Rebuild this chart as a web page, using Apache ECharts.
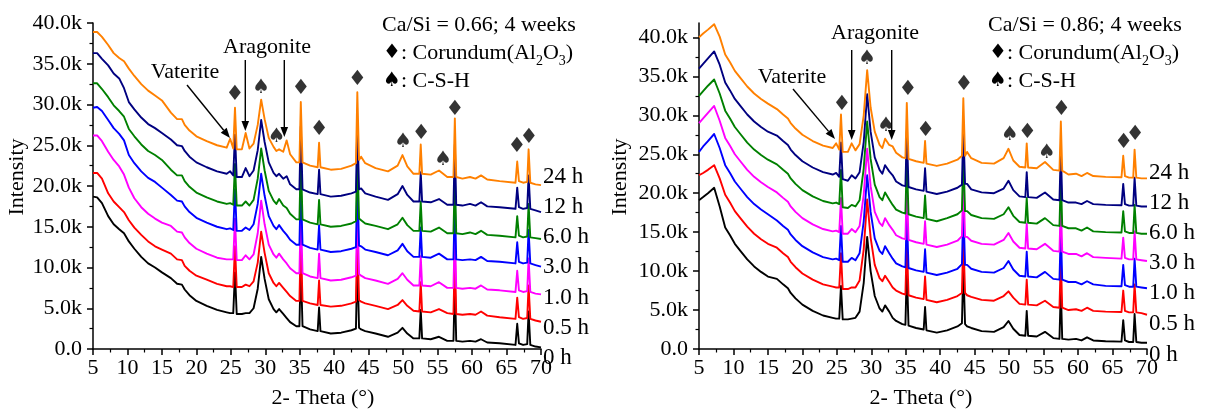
<!DOCTYPE html>
<html><head><meta charset="utf-8">
<script src="https://cdn.jsdelivr.net/npm/echarts@6/dist/echarts.min.js"></script>
<style>html,body{margin:0;padding:0;background:#fff}#c{width:1208px;height:412px}</style>
</head><body><div id="c"></div>
<script>
// 2-Theta sample positions (degrees), shared by all patterns
const twoTheta = [5,5.6,6.3,7.2,8,8.8,9.5,10.2,11,12,13,14,15,16.3,17.2,17.9,18.3,19,20,21.5,
23,24.4,24.9,25.35,25.6,25.85,26.6,27.15,27.7,28.3,28.9,29.4,29.9,30.5,31.2,31.6,32.0,32.6,33.1,33.6,
34.5,34.95,35.15,35.4,36.5,37.6,37.8,38.0,39.5,41,42.5,43.15,43.35,43.6,43.9,44.5,46,47.8,49.2,49.9,
50.6,51.5,52.35,52.55,52.75,54,55.2,56.4,57.3,57.5,57.7,58.6,59.7,60.5,61.3,62.2,64,66.3,66.55,66.8,
67.4,68.0,68.2,68.45,69.2,70];
const seriesLabels = ['0 h','0.5 h','1.0 h','3.0 h','6.0 h','12 h','24 h'];
const yTickValues = [0,5,10,15,20,25,30,35,40]; // intensity in thousands

// ---- Ca/Si = 0.66 (intensity, k counts) ----
const left_0h = [18.7,18.6,17.9,16.3,15.3,14.7,14.2,13.2,12.3,11.3,10.5,10.0,9.4,8.7,8.0,7.9,7.3,6.6,5.9,5.3,
4.8,4.5,4.4,4.4,9.4,4.3,4.3,4.4,4.4,5.0,7.4,11.3,8.6,6.1,4.9,4.5,4.9,4.3,3.8,3.3,
2.8,2.8,10.5,2.8,2.4,2.2,5.1,2.2,1.9,2.0,2.3,2.5,11.0,2.6,2.4,2.2,1.9,1.5,2.0,2.6,
1.9,1.3,1.3,4.8,1.3,1.2,1.5,1.0,1.0,8.4,1.0,0.9,1.0,0.9,1.2,0.8,0.7,0.5,3.1,0.7,
0.5,0.6,4.6,0.5,0.3,0.2];
const left_05h = [21.6,21.6,20.9,19.1,18.1,17.4,16.8,15.8,14.9,14.0,13.2,12.6,12.2,11.7,11.0,10.9,10.2,9.6,9.0,8.5,
8.0,7.7,7.7,7.6,12.6,7.6,7.6,7.9,7.7,8.3,10.6,14.4,11.8,9.3,8.1,7.7,8.1,7.5,7.0,6.5,
5.9,5.9,13.6,5.9,5.6,5.4,8.4,5.4,5.2,5.3,5.6,5.8,14.3,6.0,5.8,5.6,5.3,4.9,5.4,6.0,
5.3,4.7,4.6,8.2,4.6,4.5,4.9,4.4,4.3,11.7,4.3,4.2,4.3,4.2,4.6,4.1,3.9,3.7,6.3,3.9,
3.7,3.8,7.8,3.7,3.5,3.35];
const left_1h = [26.2,26.2,25.5,24.2,23.2,22.4,21.4,19.8,18.5,17.4,16.6,16.0,15.5,15.1,14.4,14.3,13.7,13.0,12.3,11.7,
11.2,11.0,11.0,11.0,16.0,10.9,10.9,11.5,11.0,11.6,14.2,18.2,15.3,12.8,11.6,11.2,11.7,11.0,10.5,9.9,
9.3,9.3,17.0,9.3,8.9,8.7,11.7,8.7,8.4,8.5,8.8,9.0,17.5,9.2,9.0,8.7,8.4,8.0,8.6,9.3,
8.5,7.8,7.8,11.4,7.8,7.7,8.2,7.5,7.5,14.9,7.5,7.4,7.5,7.4,7.8,7.3,7.2,7.0,9.6,7.2,
7.0,7.1,11.1,7.0,6.8,6.7];
const left_3h = [29.6,29.7,29.2,28.1,27.1,26.4,25.6,23.8,22.8,21.8,21.0,20.5,19.8,18.9,18.2,18.1,17.5,16.8,16.1,15.5,
15.0,14.7,14.8,14.6,19.6,14.5,14.5,14.9,14.6,15.3,17.8,21.5,18.8,16.3,15.1,14.7,15.2,14.5,14.0,13.4,
12.8,12.8,20.5,12.8,12.4,12.2,15.2,12.2,11.9,12.0,12.3,12.5,21.0,12.7,12.6,12.2,11.9,11.5,12.1,12.9,
12.0,11.3,11.3,14.9,11.3,11.2,11.7,11.0,11.0,18.4,11.0,10.9,11.0,10.9,11.3,10.8,10.7,10.5,13.1,10.7,
10.5,10.6,14.6,10.5,10.3,10.1];
const left_6h = [32.6,32.6,31.9,30.9,29.9,29.2,28.5,27.0,26.1,25.1,24.3,23.8,23.2,22.0,21.3,21.3,20.6,19.9,19.2,18.6,
18.1,17.8,17.9,17.7,22.7,17.6,17.6,18.1,17.6,18.3,20.9,24.6,21.9,19.4,18.2,17.8,18.4,17.6,17.3,16.6,
15.9,15.9,23.6,15.9,15.5,15.3,18.3,15.3,15.0,15.1,15.4,15.7,24.2,16.0,15.8,15.4,15.1,14.7,15.3,16.1,
15.2,14.5,14.5,18.1,14.5,14.4,14.9,14.2,14.2,21.6,14.2,14.1,14.3,14.1,14.5,14.0,13.9,13.7,16.3,13.9,
13.7,13.8,17.8,13.7,13.6,13.5];
const left_12h = [36.3,36.3,35.6,34.8,33.8,33.2,32.0,30.3,29.4,28.4,27.6,27.1,26.5,25.7,25.0,24.9,24.3,23.6,22.9,22.3,
21.8,21.5,21.8,21.3,26.3,21.1,21.1,22.2,21.2,21.9,24.4,28.1,25.4,22.9,21.6,21.2,21.5,20.9,21.2,20.2,
19.6,19.6,27.3,19.6,19.2,19.0,22.0,19.0,18.7,18.8,19.1,19.3,27.8,19.6,19.7,19.1,18.7,18.3,19.0,20.0,
18.9,18.1,18.1,21.7,18.1,18.0,18.4,17.7,17.7,25.1,17.7,17.6,17.8,17.6,18.0,17.5,17.4,17.2,19.8,17.4,
17.2,17.3,21.3,17.2,17.0,16.8];
const left_24h = [38.9,38.9,38.3,37.3,36.3,35.7,35.3,34.4,33.5,32.5,31.7,31.1,30.5,29.0,28.2,28.2,27.5,26.8,26.1,25.5,
25.0,24.7,25.8,24.6,29.6,24.5,24.5,26.5,24.6,25.2,27.5,30.6,28.2,25.9,24.8,24.3,24.5,24.2,25.6,23.9,
22.9,22.9,30.3,22.9,22.5,22.3,25.3,22.3,22.0,22.1,22.5,22.8,31.5,23.2,23.6,22.8,22.2,21.8,22.5,23.8,
22.4,21.5,21.5,25.1,21.5,21.4,21.9,21.1,21.1,28.3,21.1,20.9,21.1,20.9,21.3,20.8,20.6,20.4,23.0,20.6,
20.4,20.5,24.5,20.4,20.2,20.1];

// ---- Ca/Si = 0.86 (intensity, k counts) ----
const right_0h = [19.1,19.5,20.0,20.7,18.3,15.6,14.6,13.5,12.6,11.5,10.6,9.9,9.3,9.0,8.3,7.8,7.2,6.5,5.7,4.9,
4.3,4.0,3.9,3.9,8.1,3.8,3.8,3.9,4.0,4.8,8.5,14.4,10.0,6.8,5.2,4.8,5.6,4.8,4.0,3.6,
3.2,3.1,10.2,3.0,2.7,2.5,5.4,2.4,2.1,2.4,2.9,3.3,10.7,3.2,2.9,2.7,2.3,2.2,2.8,3.6,
2.6,1.8,1.7,4.9,1.7,1.6,2.2,1.4,1.3,7.8,1.3,1.2,1.3,1.1,1.5,1.1,1.0,0.95,3.7,1.1,
0.9,0.9,4.5,0.9,0.8,0.8];
const right_05h = [22.3,22.6,23.0,23.6,21.9,19.8,18.8,17.7,16.8,15.7,14.8,14.1,13.5,13.0,12.3,11.8,11.2,10.5,9.7,8.9,
8.3,8.0,7.9,7.9,12.3,7.7,7.7,7.9,7.9,8.8,12.8,19.2,14.3,10.8,9.1,8.7,9.4,8.6,7.9,7.5,
7.1,7.0,14.1,6.9,6.6,6.4,9.3,6.3,6.0,6.3,6.8,7.2,14.6,7.2,6.9,6.7,6.3,6.2,6.8,7.4,
6.6,5.8,5.7,8.9,5.7,5.6,6.2,5.4,5.3,11.8,5.3,5.0,5.1,4.9,5.3,4.9,4.8,4.75,7.5,4.9,
4.7,4.7,8.3,4.7,4.6,4.4];
const right_1h = [25.3,26.0,26.7,27.6,25.8,23.6,22.6,21.5,20.6,19.5,18.6,17.9,17.3,16.5,15.8,15.3,14.7,14.0,13.2,12.4,
11.8,11.5,11.6,11.4,15.8,11.2,11.2,11.7,11.4,12.3,16.4,22.3,17.6,14.2,12.6,12.2,13.2,12.3,11.6,11.0,
10.6,10.5,17.6,10.4,10.1,9.9,12.8,9.8,9.5,9.8,10.3,10.9,18.3,10.8,10.8,10.3,9.9,9.8,10.4,11.3,
10.2,9.4,9.3,12.5,9.3,9.2,9.9,9.0,8.9,15.4,8.9,8.6,8.6,8.3,8.7,8.3,8.1,8.05,10.8,8.2,
8.0,8.0,11.6,8.0,7.9,7.8];
const right_3h = [29.0,29.6,30.3,31.2,29.3,27.1,26.1,25.0,24.1,23.0,22.1,21.4,20.8,20.1,19.4,18.9,18.3,17.6,16.8,16.0,
15.4,15.1,15.2,15.0,19.4,14.8,14.8,15.4,15.0,15.8,19.8,25.7,20.9,17.6,16.2,15.8,16.8,15.9,15.3,14.6,
14.2,14.1,21.2,14.0,13.7,13.5,16.4,13.4,13.1,13.4,13.9,14.5,21.9,14.4,14.4,13.9,13.5,13.4,14.0,14.9,
13.8,13.0,12.9,16.1,12.9,12.8,13.5,12.6,12.5,19.0,12.5,12.2,12.2,11.9,12.3,11.8,11.7,11.6,14.3,11.7,
11.5,11.5,15.1,11.5,11.4,11.3];
const right_6h = [32.5,33.1,33.8,34.6,32.8,30.6,29.6,28.5,27.6,26.5,25.6,24.9,24.3,23.7,23.0,22.5,21.9,21.2,20.4,19.6,
19.0,18.7,18.8,18.6,23.0,18.2,18.1,18.5,18.3,19.1,23.2,29.2,24.4,21.1,19.5,19.1,20.1,19.2,18.5,17.9,
17.5,17.4,24.5,17.3,17.0,16.8,19.7,16.7,16.4,16.8,17.3,17.8,25.2,17.7,17.7,17.2,16.8,16.7,17.3,18.2,
17.1,16.3,16.2,19.4,16.2,16.1,16.8,15.9,15.8,22.3,15.8,15.5,15.5,15.2,15.6,15.1,15.0,14.95,17.7,15.1,
14.9,14.9,18.5,14.9,14.8,14.8];
const right_12h = [36.0,36.6,37.3,38.2,36.5,34.2,33.2,32.1,31.2,30.1,29.2,28.5,27.9,27.4,26.7,26.2,25.6,24.9,24.1,23.3,
22.7,22.4,22.6,22.1,26.5,21.8,21.6,22.3,21.9,22.7,26.6,32.7,27.9,24.6,23.0,22.5,23.6,22.8,22.3,21.5,
21.0,20.9,28.0,20.8,20.5,20.3,23.2,20.2,19.9,20.2,20.7,21.1,28.5,21.2,21.2,20.5,20.1,20.0,20.6,21.6,
20.4,19.6,19.5,22.7,19.5,19.4,20.1,19.2,19.1,25.6,19.1,18.8,18.8,18.6,19.0,18.6,18.5,18.45,21.2,18.6,
18.4,18.4,22.0,18.4,18.3,18.3];
const right_24h = [40.0,40.5,41.0,41.7,40.1,37.8,36.8,35.7,34.8,33.7,32.8,32.1,31.5,30.8,30.1,29.6,29.0,28.3,27.5,26.7,
26.1,25.8,26.4,25.6,30.1,25.3,25.3,26.4,25.5,26.3,30.0,35.8,31.0,27.9,26.2,25.8,27.0,26.2,26.0,25.2,
24.6,24.5,31.6,24.4,24.1,23.9,26.7,23.8,23.5,23.8,24.3,24.8,32.2,24.8,25.3,24.5,23.9,23.8,24.5,25.7,
24.2,23.4,23.3,26.4,23.3,23.2,24.0,23.0,22.9,29.2,22.9,22.4,22.5,22.2,22.6,22.2,22.1,22.05,24.8,22.2,
22.0,22.0,25.6,22.0,21.9,21.9];

// Phase markers [2-Theta, intensity(k)]
const leftCorundumMarks = [[25.6,31.2],[35.15,31.9],[37.8,26.9],[43.35,33.1],[52.6,26.4],[57.5,29.4],[66.5,24.9],[68.25,26.0]];
const leftCSHMarks = [[29.4,32.1],[31.65,26.0],[50.0,25.4],[55.8,23.2]];
const rightCorundumMarks = [[25.75,31.4],[35.3,33.3],[37.9,28.1],[43.45,33.9],[52.65,27.8],[57.6,30.8],[66.6,26.5],[68.3,27.5]];
const rightCSHMarks = [[29.4,37.3],[32.15,28.6],[50.1,27.5],[55.5,25.2]];

const leftSets = [left_0h,left_05h,left_1h,left_3h,left_6h,left_12h,left_24h];
const rightSets = [right_0h,right_05h,right_1h,right_3h,right_6h,right_12h,right_24h];
const leftColors = ['#000000','#FF0000','#FF00FF','#0000FF','#008000','#000080','#FF8000'];
const rightColors = ['#000000','#FF0000','#0000FF','#FF00FF','#008000','#000080','#FF8000'];

const FONT = 'Liberation Serif';
const chart = echarts.init(document.getElementById('c'));

function xAx(gi){
  return {type:'value', gridIndex:gi, min:5, max:70, interval:5,
    axisLine:{show:true, onZero:false, lineStyle:{color:'#000', width:1.5}},
    axisTick:{show:true, length:6, lineStyle:{color:'#000', width:1.5}},
    minorTick:{show:true, splitNumber:2, length:3.5, lineStyle:{color:'#000', width:1.2}},
    axisLabel:{color:'#000', fontFamily:FONT, fontSize:22, margin:8},
    splitLine:{show:false}, minorSplitLine:{show:false}};
}
function yAx(gi, max){
  return {type:'value', gridIndex:gi, min:0, max:max, interval:5,
    axisLine:{show:true, onZero:false, lineStyle:{color:'#000', width:1.5}},
    axisTick:{show:true, length:6, lineStyle:{color:'#000', width:1.5}, customValues: yTickValues},
    minorTick:{show:true, splitNumber:2, length:3.5, lineStyle:{color:'#000', width:1.2}},
    axisLabel:{color:'#000', fontFamily:FONT, fontSize:22, margin:11, customValues: yTickValues,
      formatter: v => v === 0 ? '0.0' : v.toFixed(1) + 'k'},
    splitLine:{show:false}, minorSplitLine:{show:false}};
}

const series = [];
function addPanel(gi, sets, colors){
  sets.forEach((arr, k) => {
    series.push({type:'line', xAxisIndex:gi, yAxisIndex:gi, name: seriesLabels[k],
      data: twoTheta.map((x,i) => [x, arr[i]]),
      symbol:'none', showSymbol:false, smooth:false, animation:false, z: 2 + k,
      lineStyle:{color: colors[k], width:1.9, join:'round'}, itemStyle:{color: colors[k]}});
  });
}
addPanel(0, leftSets, leftColors);
addPanel(1, rightSets, rightColors);

function marks(gi, data, glyph, size){
  series.push({type:'scatter', xAxisIndex:gi, yAxisIndex:gi, data: data, symbolSize:1,
    itemStyle:{color:'rgba(0,0,0,0)'}, silent:true, animation:false, z: 20,
    label:{show:true, position:'inside', formatter: glyph, color:'#000',
      fontFamily:'DejaVu Sans', fontSize:size}});
}
marks(0, leftCorundumMarks, '\u2666', 21);
marks(0, leftCSHMarks, '\u2660', 20);
marks(1, rightCorundumMarks, '\u2666', 21);
marks(1, rightCSHMarks, '\u2660', 20);

// annotation graphics
const g = [];
function txt(x, y, s, opts){
  opts = opts || {};
  g.push({type:'text', x:x, y:y, rotation: opts.rot || 0, z:100, style:{text:s, fill:'#000',
    font: (opts.size || 22) + 'px "' + FONT + '"', align: opts.align || 'left', verticalAlign:'middle',
    textAlign: opts.align || 'left', textVerticalAlign:'middle'}});
}
function arrow(x1, y1, x2, y2){
  const ang = Math.atan2(y2 - y1, x2 - x1), L = 10, W = 3.8;
  const bx = x2 - L*Math.cos(ang), by = y2 - L*Math.sin(ang);
  g.push({type:'line', z:100, shape:{x1:x1, y1:y1, x2:bx, y2:by}, style:{stroke:'#000', lineWidth:1.4}});
  g.push({type:'polygon', z:100, shape:{points:[[x2,y2],[bx - W*Math.sin(ang), by + W*Math.cos(ang)],[bx + W*Math.sin(ang), by - W*Math.cos(ang)]]}, style:{fill:'#000'}});
}
function legendBlock(x, title){
  txt(x, 25, title);
  const rich = {
    d:{fontFamily:'DejaVu Sans', fontSize:20, lineHeight:30},
    m:{fontFamily:FONT, fontSize:22, lineHeight:30},
    s:{fontFamily:FONT, fontSize:14, lineHeight:14, verticalAlign:'bottom'}
  };
  g.push({type:'text', x:x+1, y:53, z:100, style:{text:'{d|\u2666}{m|: Corundum(Al}{s|2}{m|O}{s|3}{m|)}', rich:rich,
    fill:'#000', align:'left', verticalAlign:'middle', textAlign:'left', textVerticalAlign:'middle'}});
  g.push({type:'text', x:x+1, y:81, z:100, style:{text:'{d|\u2660}{m|: C-S-H}', rich:rich,
    fill:'#000', align:'left', verticalAlign:'middle', textAlign:'left', textVerticalAlign:'middle'}});
}
legendBlock(382, 'Ca/Si = 0.66; 4 weeks');
legendBlock(988, 'Ca/Si = 0.86; 4 weeks');

// left panel annotations
txt(185, 72, 'Vaterite', {align:'center'});
arrow(187, 85, 230, 138);
txt(223, 47, 'Aragonite');
arrow(245.3, 60, 245.3, 131);
arrow(284.3, 60, 284.3, 137);
// right panel annotations
txt(792, 77, 'Vaterite', {align:'center'});
arrow(793, 89, 835, 139);
txt(831, 33, 'Aragonite');
arrow(851.7, 50, 851.7, 140);
arrow(891.7, 50, 891.7, 140);

// curve labels
const leftLabelY = [358, 328, 298, 267, 237, 207, 177];
const rightLabelY = [355, 324, 293, 263, 233, 203, 173];
seriesLabels.forEach((s,k) => { txt(543, leftLabelY[k], s, {size:23}); txt(1149, rightLabelY[k], s, {size:23}); });

// axis names
txt(323, 398, '2- Theta (\u00B0)', {align:'center'});
txt(921, 398, '2- Theta (\u00B0)', {align:'center'});
txt(17, 177, 'Intensity', {align:'center', rot: Math.PI/2});
txt(620, 177, 'Intensity', {align:'center', rot: Math.PI/2});

chart.setOption({
  animation:false,
  backgroundColor:'#fff',
  grid:[{left:93, top:23, width:448, height:326}, {left:699, top:23, width:448, height:326}],
  xAxis:[xAx(0), xAx(1)],
  yAxis:[yAx(0, 40), yAx(1, 41.85)],
  series: series,
  graphic: g
});
</script>
</body></html>
